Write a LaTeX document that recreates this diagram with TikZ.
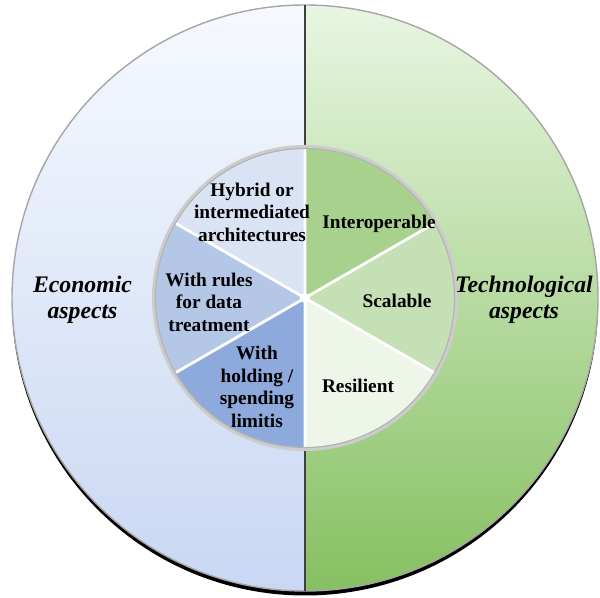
\documentclass[tikz,border=0pt]{standalone}
\usepackage{fontspec}
\setmainfont{Liberation Serif}
\usetikzlibrary{calc}

\definecolor{hybridfill}{HTML}{DAE3F3}
\definecolor{rulesfill}{HTML}{B4C7E7}
\definecolor{holdfill}{HTML}{8EA9DB}
\definecolor{interfill}{HTML}{A9D18E}
\definecolor{scalefill}{HTML}{C5E0B4}
\definecolor{resilfill}{HTML}{EEF6EA}

\begin{document}
\begin{tikzpicture}[
    wedgetext/.style={align=center, font=\fontsize{11}{12.8}\selectfont\bfseries},
    aspecttext/.style={align=center, font=\fontsize{13.5}{14.8}\selectfont\bfseries\itshape}]
    \useasboundingbox (0, 0) rectangle (12, 11.96);

    \coordinate (O) at (6.1, 6.0);
    \coordinate (T) at (6.1, 11.86);
    \coordinate (B) at (6.1, 0.14);

    \fill[black] ($(O)+(0,-0.09)$) circle (5.86);
    \shade[top color={rgb,255:red,246;green,249;blue,254}, middle color={rgb,255:red,214;green,225;blue,247},
        bottom color={rgb,255:red,201;green,215;blue,243}]
        (T) arc[start angle=90, end angle=270, radius=5.86] -- cycle;
    \shade[top color={rgb,255:red,232;green,246;blue,226}, middle color={rgb,255:red,196;green,228;blue,176},
        bottom color={rgb,255:red,134;green,192;blue,97}]
        (T) arc[start angle=90, end angle=-90, radius=5.86] -- cycle;
    \draw[black!35, line width=0.8pt] (O) circle (5.86);
    \draw[black!75, line width=0.9pt] (T) -- (B);

    \fill[black!20] (O) circle (3.06);
    \fill[interfill] (O) -- ++(30:2.98) arc[start angle=30, end angle=90, radius=2.98] -- cycle;
    \fill[scalefill] (O) -- ++(-30:2.98) arc[start angle=-30, end angle=30, radius=2.98] -- cycle;
    \fill[resilfill] (O) -- ++(-90:2.98) arc[start angle=-90, end angle=-30, radius=2.98] -- cycle;
    \fill[hybridfill] (O) -- ++(90:2.98) arc[start angle=90, end angle=150, radius=2.98] -- cycle;
    \fill[rulesfill] (O) -- ++(150:2.98) arc[start angle=150, end angle=210, radius=2.98] -- cycle;
    \fill[holdfill] (O) -- ++(210:2.98) arc[start angle=210, end angle=270, radius=2.98] -- cycle;
    \draw[white, line width=1.6pt] (O) -- ++(90:2.98) (O) -- ++(30:2.98) (O) -- ++(-30:2.98)
        (O) -- ++(-90:2.98) (O) -- ++(210:2.98) (O) -- ++(150:2.98);
    \fill[white] (O) circle (0.1);
    \draw[black!30, line width=0.6pt] (O) circle (2.99);

    \node[wedgetext] (hybrid) at (5.04, 7.72) {Hybrid or\\intermediated\\architectures};
    \node[wedgetext] (inter) at (7.58, 7.48) {Interoperable};
    \node[wedgetext] (rules) at (4.18, 5.92) {With rules\\for data\\treatment};
    \node[wedgetext] (scale) at (7.94, 5.94) {Scalable};
    \node[wedgetext] (hold) at (5.14, 4.22) {With\\holding /\\spending\\limitis};
    \node[wedgetext] (resil) at (7.16, 4.24) {Resilient};

    \node[aspecttext] (econ) at (1.65, 5.96) {Economic\\aspects};
    \node[aspecttext] (tech) at (10.48, 5.96) {Technological\\aspects};
\end{tikzpicture}
\end{document}
